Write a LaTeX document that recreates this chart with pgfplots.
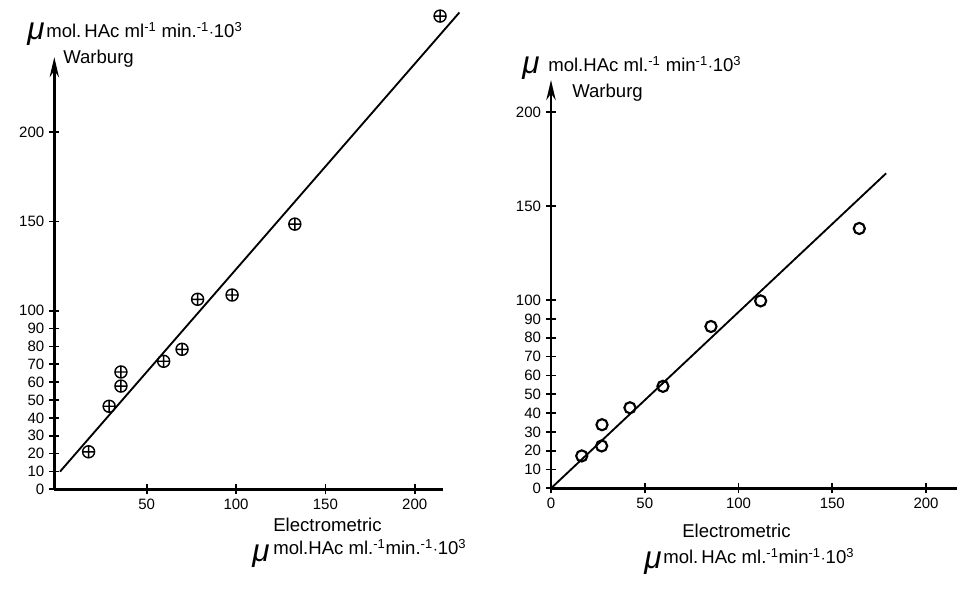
\documentclass[border=0pt]{standalone}
\usepackage{fontspec}
\setmainfont{Liberation Sans}
\usepackage{pgfplots}
\pgfplotsset{compat=1.18}
\usetikzlibrary{arrows.meta}
\begin{document}
\begin{tikzpicture}
\useasboundingbox (0,0) rectangle (669.9pt,412.3pt);
\pgfplotsset{
  every axis/.append style={
    scale only axis, axis lines=left, clip=false,
    axis line style={line width=2pt},
    x axis line style={-},
    y axis line style={-{Stealth[length=14pt,width=6.5pt]}},
    tick style={line width=1.2pt, black},
    tick align=center, major tick length=7pt,
    ticklabel style={font=\fontsize{10.5}{12}\selectfont},
    /pgf/number format/assume math mode=true,
  }
}
% left panel
\begin{axis}[
  at={(38.01pt,69.79pt)}, anchor=south west,
  width=272.3pt, height=302.5pt,
  xmin=-1.7, xmax=216, ymin=0, ymax=242,
  xtick={50,100,150,200},
  ytick={0,10,20,30,40,50,60,70,80,90,100,150,200},
]
\addplot[no marks, line width=1.3pt] coordinates {(1.5,9.9) (225,267)};
\addplot[only marks, mark=oplus, mark size=4.2pt, mark options={line width=1pt}] coordinates {
(17.5,21) (29,46.5) (35.6,57.8) (35.6,65.7) (59.5,71.7) (69.8,78.4) (78.5,106.4) (97.8,108.8) (132.9,148.5) (214.2,265)};
\end{axis}
% right panel
\begin{axis}[
  at={(385.7pt,70.49pt)}, anchor=south west,
  width=284.2pt, height=285.8pt,
  xmin=0, xmax=216.5, ymin=0, ymax=217,
  xtick={0,50,100,150,200},
  ytick={0,10,20,30,40,50,60,70,80,90,100,150,200},
]
\addplot[no marks, line width=1.3pt] coordinates {(0,0) (178.7,167.4)};
\addplot[only marks, mark=o, mark size=3.9pt, mark options={line width=1.5pt}] coordinates {
(16.4,17.2) (27,22.5) (27.2,33.8) (42.1,42.8) (59.7,54.2) (85.3,86) (111.8,99.6) (164.4,138.1)};
\end{axis}
% texts in pixel coordinates
\begin{scope}[shift={(0,412.3pt)}, x=0.7pt, y=-0.7pt, every node/.style={inner sep=0pt}]
\def\fs{\fontsize{13}{15}\selectfont}
\def\mufs{\fontsize{22}{22}\selectfont\itshape}
% left header
\node[anchor=base east] at (45,40) {\mufs μ};
\node[anchor=base west] at (46,38) {\fs mol.\,HAc ml\textsuperscript{-1} min.\textsuperscript{-1}$\cdot$10\textsuperscript{3}};
\node[anchor=base west] at (63,64) {\fs Warburg};
% right header
\node[anchor=base east] at (540,74) {\mufs μ};
\node[anchor=base west] at (548,72) {\fs mol.HAc ml.\textsuperscript{-1} min\textsuperscript{-1}$\cdot$10\textsuperscript{3}};
\node[anchor=base west] at (572,98) {\fs Warburg};
% left x label
\node[anchor=base west] at (273,532) {\fs Electrometric};
\node[anchor=base east] at (270,562) {\mufs μ};
\node[anchor=base west] at (273,555) {\fs mol.HAc ml.\textsuperscript{-1}min.\textsuperscript{-1}$\cdot$10\textsuperscript{3}};
% right x label
\node[anchor=base west] at (682,538) {\fs Electrometric};
\node[anchor=base east] at (662,569) {\mufs μ};
\node[anchor=base west] at (663,564) {\fs mol.\,HAc ml.\textsuperscript{-1}min\textsuperscript{-1}$\cdot$10\textsuperscript{3}};
\end{scope}
\end{tikzpicture}
\end{document}
